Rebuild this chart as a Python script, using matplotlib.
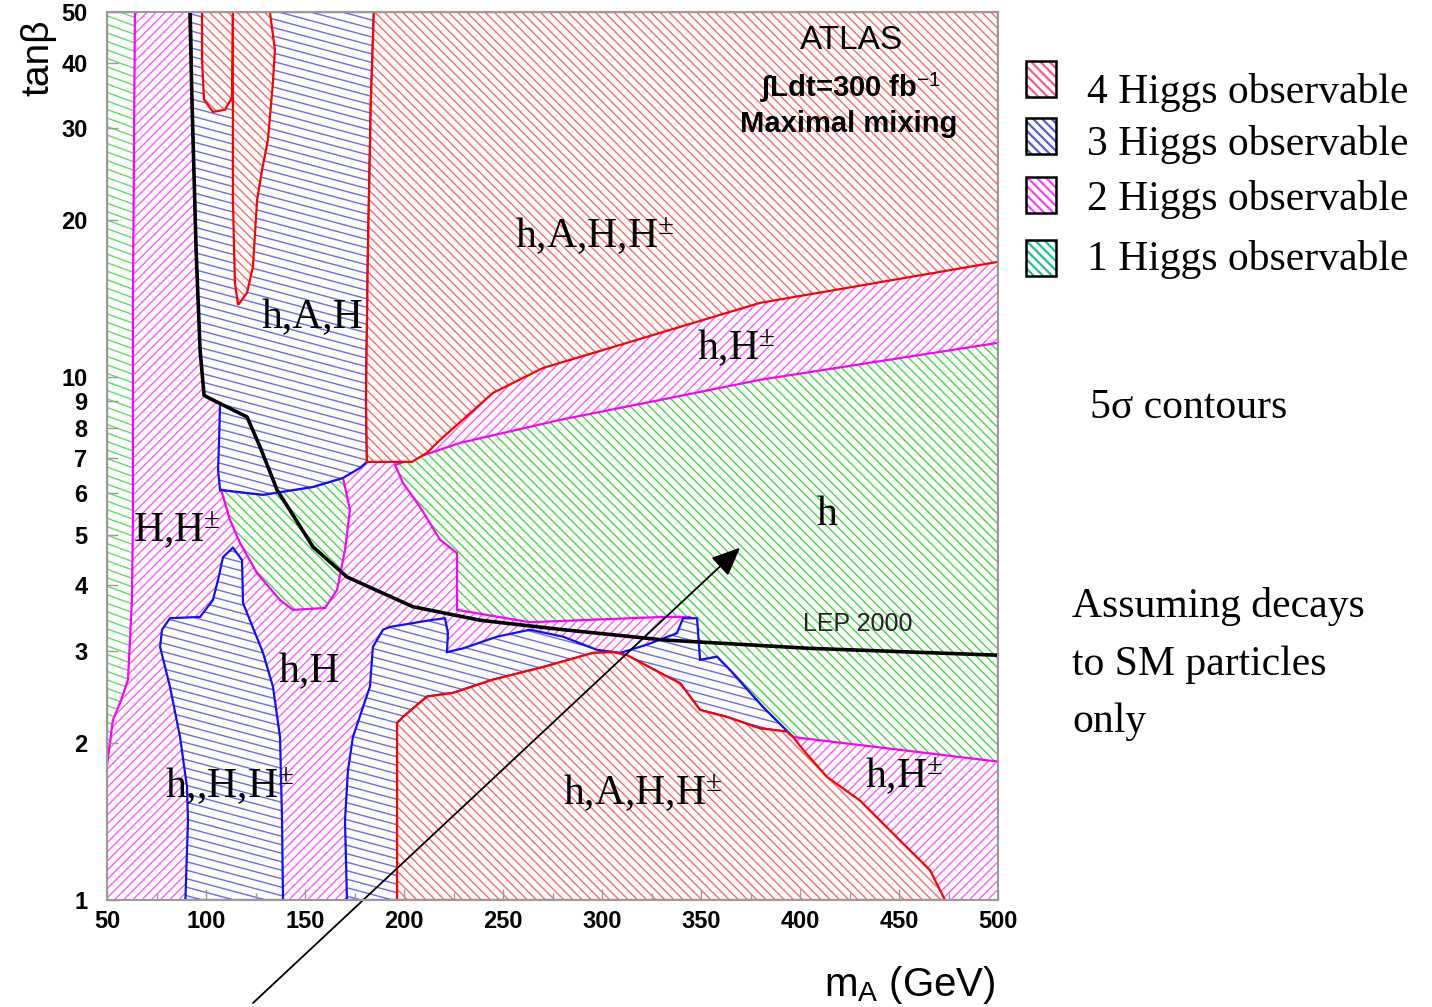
import numpy as np
import matplotlib
matplotlib.use("Agg")
import matplotlib.pyplot as plt
from matplotlib.patches import Polygon, Rectangle
from matplotlib.collections import LineCollection
from matplotlib.transforms import IdentityTransform
from matplotlib.ticker import NullLocator

plt.rcParams['mathtext.fontset'] = 'custom'
plt.rcParams['mathtext.rm'] = 'Liberation Serif'
plt.rcParams['mathtext.it'] = 'Liberation Serif:italic'
plt.rcParams['mathtext.bf'] = 'Liberation Serif:bold'
plt.rcParams['mathtext.sf'] = 'Liberation Sans'

# ---- contour data : m_A (GeV), tan(beta) ----
# LEP 2000 exclusion line
lep_ma = [91.9, 92.9, 95.0, 97.0, 99.0, 100.5, 120.7, 127.3, 135.9, 154.0, 171.2, 204.5, 238.4, 280.3, 330.8, 405.1, 500]
lep_tb = [50, 34.0, 17.5, 11.3, 9.25, 9.17, 8.40, 7.36, 6.09, 4.74, 4.15, 3.64, 3.43, 3.29, 3.145, 3.03, 2.94]

# 1 Higgs observable (h only)
strip_ma = [50, 64.1, 63.1, 63.1, 62.6, 60.6, 57.1, 53.0, 50]
strip_tb = [50, 50, 14.07, 5.34, 3.75, 2.64, 2.41, 2.21, 1.81]
h_ma = [195.5, 228.3, 278.8, 329.3, 379.8, 500, 500, 396.5, 381.3, 364.6, 358.1, 349.5, 348.0, 344.4,
        330.8, 263.6, 226.8, 226.8, 218.2, 208.1, 199.5]
h_tb = [6.80, 7.49, 8.29, 9.05, 9.89, 11.64, 1.84, 2.05, 2.34, 2.755, 2.92, 2.88, 3.33, 3.48,
        3.48, 3.40, 3.59, 4.61, 4.89, 5.65, 6.28]
pocket_ma = [107.1, 128.8, 154.0, 169.2, 172.7, 170.2, 166.2, 160.1, 143.9, 137.4, 125.8, 117.2, 112.1, 108.1]
pocket_tb = [6.09, 5.96, 6.17, 6.42, 5.58, 4.67, 3.92, 3.62, 3.59, 3.75, 4.22, 4.82, 5.34, 6.01]

# 3 Higgs observable
hAH_ma = [92.4, 92.9, 95.0, 97.0, 99.0, 100.5, 107.1, 106.6, 106.1, 107.1, 128.8, 154.0, 169.2, 177.8,
          181.3, 180.8, 181.8, 183.3, 184.8]
hAH_tb = [50, 34.0, 17.5, 11.3, 9.25, 9.17, 8.91, 7.59, 6.65, 6.09, 5.96, 6.17, 6.42, 6.71,
          6.89, 9.05, 17.5, 34.0, 50]
hHHc_ma = [113.6, 118.2, 118.7, 122.2, 128.8, 133.8, 137.4, 138.4, 138.9, 89.6, 90.9, 90.4, 86.9, 81.8,
           76.8, 77.8, 81.8, 97.0, 103.5, 106.1, 108.6]
hHHc_tb = [4.72, 4.47, 3.70, 3.43, 2.97, 2.56, 2.05, 1.42, 1.0, 1.0, 1.42, 1.645, 2.05, 2.56,
           3.05, 3.29, 3.46, 3.48, 3.75, 4.10, 4.53]
mid_ma = [171.2, 170.2, 171.7, 174.2, 178.8, 182.8, 184.3, 189.4, 192.9, 213.1, 220.7, 222.2, 221.7, 229.8,
          247.0, 263.6, 280.3, 297.5, 309.1, 322.7, 337.9, 340.9, 348.0, 349.5, 358.1, 364.6, 381.3, 396.5,
          393.4, 379.8, 363.1, 349.5, 339.4, 329.3, 312.6, 305.6, 295.5, 270.2, 245.0, 224.7, 211.6, 199.5,
          196.5, 196.5]
mid_tb = [1.0, 1.42, 1.77, 2.05, 2.31, 2.56, 3.05, 3.29, 3.33, 3.43, 3.46, 3.24, 2.98, 3.03,
          3.19, 3.29, 3.19, 3.01, 2.97, 3.08, 3.24, 3.46, 3.46, 2.88, 2.92, 2.755, 2.34, 2.05,
          2.10, 2.13, 2.24, 2.31, 2.60, 2.72, 2.94, 2.98, 2.97, 2.79, 2.64, 2.49, 2.45, 2.24,
          2.18, 1.0]

# 4 Higgs observable
top4_ma = [184.8, 183.3, 181.8, 180.8, 181.3, 204.0, 211.6, 218.2, 226.8, 245.0, 270.2, 295.5, 329.3, 379.8, 500, 500]
top4_tb = [50, 34.0, 17.5, 9.05, 6.89, 6.89, 7.17, 7.59, 8.11, 9.34, 10.42, 11.13, 12.16, 13.88, 16.63, 50]
low4_ma = [196.5, 196.5, 199.5, 211.6, 224.7, 245.0, 270.2, 295.5, 305.6, 312.6, 329.3, 339.4, 349.5, 363.1,
           379.8, 393.4, 396.5, 401.5, 413.6, 430.3, 450.5, 465.7, 473.2]
low4_tb = [1.0, 2.18, 2.24, 2.45, 2.49, 2.64, 2.79, 2.97, 2.98, 2.94, 2.72, 2.60, 2.31, 2.24,
           2.13, 2.10, 2.05, 1.94, 1.72, 1.55, 1.30, 1.14, 1.0]
fing1_ma = [98.0, 98.0, 99.0, 103.5, 109.6, 113.1, 113.6]
fing1_tb = [50, 40.5, 34.0, 32.2, 32.5, 34.3, 50]
fing2_ma = [113.6, 113.6, 113.6, 114.6, 116.2, 120.7, 123.7, 125.8, 128.3, 131.3, 133.8, 134.8, 132.3]
fing2_tb = [50, 34.0, 21.85, 15.16, 13.76, 14.5, 16.27, 21.85, 24.9, 28.5, 36.6, 42.3, 50]

# region labels
labels = ["h,A,H,H$^{\\pm}$", "h,A,H", "h,H$^{\\pm}$", "h", "H,H$^{\\pm}$", "h,H",
          "h,,H,H$^{\\pm}$", "h,A,H,H$^{\\pm}$", "h,H$^{\\pm}$"]
label_ma = [256.1, 128.3, 348.0, 408.6, 63.1, 136.9, 79.3, 280.3, 432.8]
label_tb = [17.69, 12.43, 10.8, 5.22, 4.84, 2.61, 1.568, 1.52, 1.638]

legend_names = ["4 Higgs observable", "3 Higgs observable", "2 Higgs observable", "1 Higgs observable"]
legend_cols = ["#ff5a80", "#5a5ad8", "#ff40ff", "#22c08c"]

xticks = np.arange(50, 501, 50)
yticks = [1, 2, 3, 4, 5, 6, 7, 8, 9, 10, 20, 30, 40, 50]

W, H = 1432, 1007
RED, BLUE, MAG, GRN = "#ff0000", "#1010ff", "#ff00ff", "#40d840"
SERIF = ["Liberation Serif", "DejaVu Serif"]
SANS = ["Liberation Sans", "DejaVu Sans"]

fig = plt.figure(figsize=(W / 100, H / 100), dpi=100)
ax = fig.add_axes([107 / W, 1 - 900 / H, 891 / W, 888 / H])
ax.set_yscale("log")
ax.set_xlim(50, 500)
ax.set_ylim(1, 50)


def fpos(x, y):
    return x / W, 1 - y / H


def hatch_lines(clip, angle, step, color, lw, z, parent):
    # parallel lines in pixel space, clipped to a patch
    th = np.deg2rad(angle)
    u = np.array([np.cos(th), np.sin(th)])
    n = np.array([-u[1], u[0]])
    corners = np.array([[0, 0], [W, 0], [0, H], [W, H]])
    dn, du = corners @ n, corners @ u
    segs = [[o * n + du.min() * u, o * n + du.max() * u]
            for o in np.arange(dn.min() - step, dn.max() + step, step)]
    lc = LineCollection(segs, colors=color, linewidths=lw, transform=IdentityTransform(), zorder=z)
    lc.set_clip_path(clip)
    if parent is fig:
        fig.add_artist(lc)
    else:
        parent.add_collection(lc, autolim=False)


def region(ma, tb, hcol, ecol, angle, step, z):
    xy = np.column_stack([ma, tb])
    p = Polygon(xy, closed=True, facecolor="white", edgecolor="none", zorder=z)
    ax.add_patch(p)
    hatch_lines(p, angle, step, hcol, 1.0, z + 0.01, ax)
    ax.add_patch(Polygon(xy, closed=True, fill=False, edgecolor=ecol, lw=1.6, zorder=z + 0.02))


# 2 Higgs observable everywhere underneath
base = Rectangle((0, 0), 1, 1, transform=ax.transAxes, facecolor="white", edgecolor="none", zorder=0.5)
ax.add_patch(base)
hatch_lines(base, 45, 6.5, "#ff5cff", 1.0, 0.6, ax)

region(strip_ma, strip_tb, "#5ee05e", MAG, -20, 8, 2)
region(h_ma, h_tb, "#44d944", MAG, -45, 6.8, 2.1)
region(pocket_ma, pocket_tb, "#44d944", MAG, -45, 6.8, 2.2)
region(hAH_ma, hAH_tb, "#6c6ce8", BLUE, -15, 8.2, 3)
region(hHHc_ma, hHHc_tb, "#6c6ce8", BLUE, -15, 8.2, 3.1)
region(mid_ma, mid_tb, "#6c6ce8", BLUE, -15, 8.2, 3.2)
region(top4_ma, top4_tb, "#ff6a6a", RED, -45, 6.5, 4)
region(low4_ma, low4_tb, "#ff6a6a", RED, -45, 6.5, 4.1)
region(fing1_ma, fing1_tb, "#ff6a6a", RED, -45, 6.5, 4.2)
region(fing2_ma, fing2_tb, "#ff6a6a", RED, -45, 6.5, 4.3)

ax.plot(lep_ma, lep_tb, color="black", lw=2.6, zorder=6)
ax.text(429.3, 3.37, "LEP 2000", fontsize=18, family=SANS, ha="center", va="center",
        color="#222222", zorder=7)

for s, xm, yt in zip(labels, label_ma, label_tb):
    ax.text(xm, yt, s, fontsize=30, family=SERIF, ha="left", va="baseline", zorder=7)


def axfrac(x, y):
    return ax.transAxes.inverted().transform(fig.transFigure.transform(fpos(x, y)))


ax.text(*axfrac(851, 40), "ATLAS", transform=ax.transAxes, fontsize=24, family=SANS,
        ha="center", va="center", zorder=7)
ax.text(*axfrac(850, 88), "\u222bLdt=300 fb$^{\\mathsf{-1}}$", transform=ax.transAxes, fontsize=21,
        family=SANS, fontweight="bold", ha="center", va="center", zorder=7)
ax.text(*axfrac(849, 124), "Maximal mixing", transform=ax.transAxes, fontsize=21, family=SANS,
        fontweight="bold", ha="center", va="center", zorder=7)

ax.annotate("", xy=(369.7, 4.72), xytext=(123.7, 0.635),
            arrowprops=dict(arrowstyle="-|>,head_length=0.8,head_width=0.35", color="black",
                            lw=1.3, mutation_scale=22, shrinkA=0, shrinkB=0),
            annotation_clip=False, zorder=9)

# axes styling
ax.set_xticks(xticks)
ax.set_xticks(np.arange(75, 500, 50), minor=True)
ax.set_yticks(yticks)
ax.set_yticklabels([str(v) for v in yticks])
ax.yaxis.set_minor_locator(NullLocator())
ax.tick_params(which="both", direction="in", color="#999999", width=1)
ax.tick_params(which="major", length=8)
ax.tick_params(which="minor", length=5)
ax.tick_params(axis="x", labelsize=17, pad=7)
ax.tick_params(axis="y", labelsize=17, pad=14)
for lab in ax.get_xticklabels() + ax.get_yticklabels():
    lab.set_family(SANS)
    lab.set_fontweight("bold")
for sp in ax.spines.values():
    sp.set_color("#9a9a9a")
    sp.set_linewidth(1.5)
    sp.set_zorder(10)
ax.xaxis.set_zorder(10)
ax.yaxis.set_zorder(10)

fig.text(*fpos(38, 58), "tan\u03b2", rotation=90, fontsize=28, family=SANS, ha="center", va="center")
fig.text(*fpos(996, 985), "m$_{\\mathsf{A}}$ (GeV)", fontsize=29, family=SANS, ha="right", va="center")

# legend
box_tops = [61, 118, 177, 240]
text_base = [103, 155, 210, 270]
for name, col, bt, tbase in zip(legend_names, legend_cols, box_tops, text_base):
    x0, y0 = fpos(1026, bt + 36)
    r = Rectangle((x0, y0), 30 / W, 36 / H, transform=fig.transFigure, facecolor="white",
                  edgecolor="none")
    fig.add_artist(r)
    hatch_lines(r, -45, 6.5, col, 1.6, 1.1, fig)
    fig.add_artist(Rectangle((x0, y0), 30 / W, 36 / H, transform=fig.transFigure, fill=False,
                             edgecolor="black", lw=1.8, zorder=1.2))
    fig.text(*fpos(1087, tbase), name, fontsize=30, family=SERIF, ha="left", va="baseline")

fig.text(*fpos(1090, 418), "5\u03c3 contours", fontsize=30, family=SERIF, ha="left", va="baseline")
for line, yb in zip(["Assuming decays", "to SM particles", "only"], [617, 675, 732]):
    fig.text(*fpos(1072, yb), line, fontsize=30, family=SERIF, ha="left", va="baseline")

fig.savefig("out.png")
